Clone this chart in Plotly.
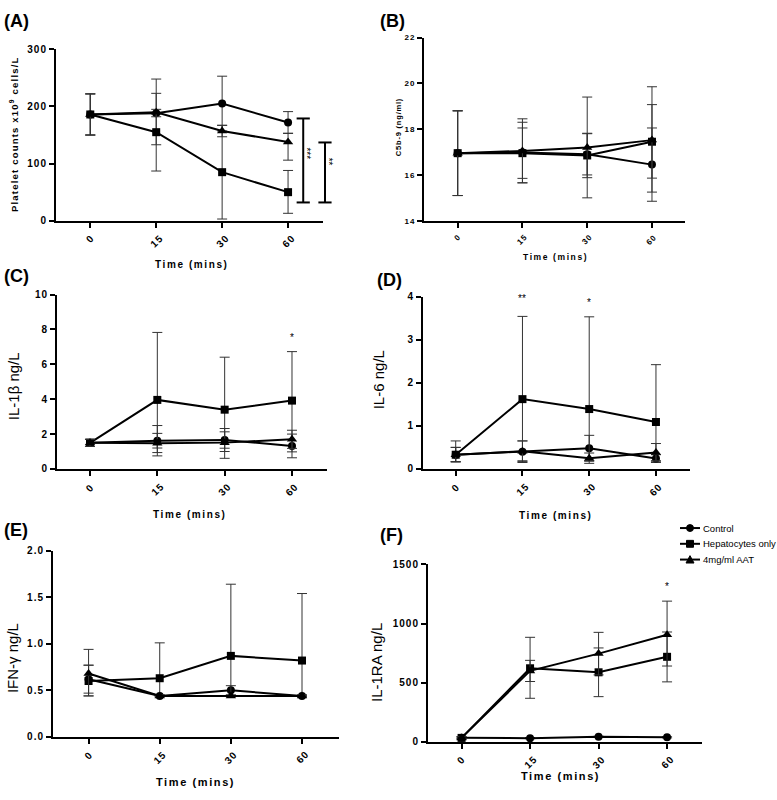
import plotly.graph_objects as go

# ---------------- data ----------------
times = ["0", "15", "30", "60"]
series_names = ["Control", "Hepatocytes only", "4mg/ml AAT"]

# (A) Platelet counts
a_control = [186, 188, 205, 172]
a_control_up = [36, 60, 48, 19]
a_control_dn = [36, 55, 48, 19]
a_hep = [186, 155, 85, 50]
a_hep_up = [36, 68, 82, 38]
a_hep_dn = [36, 68, 82, 37]
a_aat = [186, 190, 157, 138]
a_aat_up = [36, 5, 10, 15]
a_aat_dn = [36, 8, 10, 32]
a_ticks = [0, 100, 200, 300]
a_sig_low = [32, 32]
a_sig_high = [179, 137]
a_sig_text = ["***", "**"]

# (B) C5b-9
b_control = [16.95, 16.98, 16.9, 16.45]
b_control_up = [1.85, 1.32, 0.9, 1.6]
b_control_dn = [1.85, 1.32, 0.9, 1.6]
b_hep = [16.95, 16.95, 16.85, 17.45]
b_hep_up = [1.85, 1.1, 0.97, 2.4]
b_hep_dn = [1.85, 1.1, 0.97, 2.2]
b_aat = [16.95, 17.05, 17.2, 17.52]
b_aat_up = [1.85, 1.4, 2.2, 1.55]
b_aat_dn = [1.85, 1.4, 2.2, 1.66]
b_ticks = [14, 16, 18, 20, 22]

# (C) IL-1beta
c_control = [1.5, 1.62, 1.66, 1.32]
c_control_up = [0.2, 0.42, 0.47, 0.68]
c_control_dn = [0.2, 0.42, 0.47, 0.68]
c_hep = [1.5, 3.96, 3.4, 3.92]
c_hep_up = [0.2, 3.87, 3.01, 2.81]
c_hep_dn = [0.2, 3.02, 2.4, 2.94]
c_aat = [1.5, 1.47, 1.51, 1.7]
c_aat_up = [0.2, 1.02, 0.81, 0.52]
c_aat_dn = [0.2, 0.72, 0.9, 0.52]
c_ticks = [0, 2, 4, 6, 8, 10]
c_sig = {"60": (7.55, "*")}

# (D) IL-6
d_control = [0.33, 0.40, 0.48, 0.24]
d_control_up = [0.32, 0.25, 0.30, 0.09]
d_control_dn = [0.16, 0.25, 0.30, 0.09]
d_hep = [0.33, 1.62, 1.39, 1.09]
d_hep_up = [0.17, 1.92, 2.14, 1.33]
d_hep_dn = [0.16, 1.45, 1.2, 0.9]
d_aat = [0.33, 0.41, 0.25, 0.38]
d_aat_up = [0.17, 0.24, 0.12, 0.21]
d_aat_dn = [0.17, 0.22, 0.12, 0.2]
d_ticks = [0, 1, 2, 3, 4]
d_sig = {"15": (3.96, "**"), "30": (3.87, "*")}

# (E) IFN-gamma
e_control = [0.62, 0.44, 0.50, 0.44]
e_control_up = [0.15, 0.01, 0.05, 0.01]
e_control_dn = [0.15, 0.01, 0.05, 0.01]
e_hep = [0.60, 0.63, 0.87, 0.82]
e_hep_up = [0.34, 0.38, 0.77, 0.72]
e_hep_dn = [0.16, 0.19, 0.43, 0.38]
e_aat = [0.68, 0.44, 0.44, 0.44]
e_aat_up = [0.09, 0.01, 0.01, 0.01]
e_aat_dn = [0.24, 0.01, 0.01, 0.01]
e_ticks = [0.0, 0.5, 1.0, 1.5, 2.0]

# (F) IL-1RA
f_control = [35, 31, 42, 38]
f_control_up = [5, 5, 5, 5]
f_control_dn = [5, 5, 5, 5]
f_hep = [33, 622, 588, 719]
f_hep_up = [10, 262, 206, 210]
f_hep_dn = [10, 254, 206, 212]
f_aat = [33, 600, 746, 906]
f_aat_up = [10, 89, 180, 284]
f_aat_dn = [10, 90, 180, 265]
f_ticks = [0, 500, 1000, 1500]
f_sig = {"60": (1316, "*")}

# ---------------- layout helpers ----------------
W, H = 777, 800
FONT = "Arial, Liberation Sans, sans-serif"
symbols = ["circle", "square", "triangle-up"]
msizes = [8, 8, 9]


def px_x(p):
    return p / W


def px_y(p):
    return 1 - p / H


def spaced(t, sp=1.2):
    return '<span style="letter-spacing:%spx">%s</span>' % (sp, t)


panels = [
    dict(key="A", xdom=(56, 323), ydom=(44, 218), xr=(-0.52, 3.53), yr=(0, 300),
         ticks=a_ticks, tfmt="{:d}", fs=10,
         series=[(a_control, a_control_up, a_control_dn), (a_hep, a_hep_up, a_hep_dn), (a_aat, a_aat_up, a_aat_dn)],
         sig={}),
    dict(key="B", xdom=(424, 685), ydom=(32, 218), xr=(-0.52, 3.51), yr=(14, 22),
         ticks=b_ticks, tfmt="{:d}", fs=8,
         series=[(b_control, b_control_up, b_control_dn), (b_hep, b_hep_up, b_hep_dn), (b_aat, b_aat_up, b_aat_dn)],
         sig={}),
    dict(key="C", xdom=(57, 327), ydom=(293, 470), xr=(-0.49, 3.52), yr=(0, 10),
         ticks=c_ticks, tfmt="{:d}", fs=10,
         series=[(c_control, c_control_up, c_control_dn), (c_hep, c_hep_up, c_hep_dn), (c_aat, c_aat_up, c_aat_dn)],
         sig=c_sig),
    dict(key="D", xdom=(423, 690), ydom=(295, 470), xr=(-0.49, 3.51), yr=(0, 4),
         ticks=d_ticks, tfmt="{:d}", fs=10,
         series=[(d_control, d_control_up, d_control_dn), (d_hep, d_hep_up, d_hep_dn), (d_aat, d_aat_up, d_aat_dn)],
         sig=d_sig),
    dict(key="E", xdom=(53, 339), ydom=(553, 742), xr=(-0.5, 3.52), yr=(0, 2),
         ticks=e_ticks, tfmt="{:.1f}", fs=10,
         series=[(e_control, e_control_up, e_control_dn), (e_hep, e_hep_up, e_hep_dn), (e_aat, e_aat_up, e_aat_dn)],
         sig={}),
    dict(key="F", xdom=(428, 702), ydom=(567, 747), xr=(-0.49, 3.51), yr=(0, 1500),
         ticks=f_ticks, tfmt="{:d}", fs=10,
         series=[(f_control, f_control_up, f_control_dn), (f_hep, f_hep_up, f_hep_dn), (f_aat, f_aat_up, f_aat_dn)],
         sig=f_sig),
]

fig = go.Figure()
layout = dict(width=W, height=H, margin=dict(l=0, r=0, t=0, b=0),
              paper_bgcolor="white", plot_bgcolor="white",
              font=dict(family=FONT, color="black"),
              showlegend=False, hovermode=False)
annotations = []
shapes = []
xpos = list(range(len(times)))

for i, p in enumerate(panels):
    n = "" if i == 0 else str(i + 1)
    xa, ya = "x" + n, "y" + n
    tf = dict(family=FONT, size=p["fs"], weight=700, color="black")
    layout["xaxis" + n] = dict(
        domain=[px_x(p["xdom"][0]), px_x(p["xdom"][1])], range=list(p["xr"]),
        anchor=ya, tickmode="array", tickvals=xpos, showticklabels=False,
        showline=True, linecolor="black", linewidth=2, ticks="outside", ticklen=5,
        tickwidth=2, tickcolor="black", showgrid=False, zeroline=False, fixedrange=True)
    layout["yaxis" + n] = dict(
        domain=[px_y(p["ydom"][1]), px_y(p["ydom"][0])], range=list(p["yr"]),
        anchor=xa, tickmode="array", tickvals=p["ticks"],
        ticktext=[spaced(p["tfmt"].format(t), 1) for t in p["ticks"]],
        showline=True, linecolor="black", linewidth=2, ticks="outside", ticklen=5,
        tickwidth=2, tickcolor="black", showgrid=False, zeroline=False, tickfont=tf,
        fixedrange=True)
    # rotated category labels under the x axis
    for k, t in enumerate(times):
        annotations.append(dict(x=xpos[k], y=0, xref=xa, yref=ya + " domain", text=spaced(t, 1),
                                textangle=-45, xanchor="center", yanchor="top", yshift=-9,
                                showarrow=False, font=tf))
    for s, (vals, up, dn) in enumerate(p["series"]):
        fig.add_trace(go.Scatter(
            x=xpos, y=vals, xaxis=xa, yaxis=ya, mode="lines+markers",
            name=series_names[s], showlegend=False,
            line=dict(color="black", width=2),
            marker=dict(symbol=symbols[s], size=msizes[s], color="black"),
            error_y=dict(type="data", symmetric=False, array=up, arrayminus=dn,
                         color="#333333", thickness=1, width=5),
            cliponaxis=False))
    for t, (yv, txt) in p["sig"].items():
        annotations.append(dict(x=times.index(t), y=yv, xref=xa, yref=ya, text=txt,
                                showarrow=False, font=dict(size=10, family=FONT, color="black")))

# significance brackets in panel A (drawn outside the plotting area, so domain refs)
axr, ayr = panels[0]["xr"], panels[0]["yr"]


def fx(v):
    return (v - axr[0]) / (axr[1] - axr[0])


def fy(v):
    return (v - ayr[0]) / (ayr[1] - ayr[0])


bracket_x = [3.23, 3.56]
for bx, lo, hi, txt in zip(bracket_x, a_sig_low, a_sig_high, a_sig_text):
    shapes.append(dict(type="line", xref="x domain", yref="y domain", x0=fx(bx), x1=fx(bx),
                       y0=fy(lo), y1=fy(hi), line=dict(color="black", width=2)))
    for yy in (lo, hi):
        shapes.append(dict(type="line", xref="x domain", yref="y domain", x0=fx(bx - 0.1),
                           x1=fx(bx + 0.1), y0=fy(yy), y1=fy(yy), line=dict(color="black", width=2)))
    annotations.append(dict(x=fx(bx + 0.16), y=fy(lo + (hi - lo) * 0.58), xref="x domain", yref="y domain",
                            text=txt, textangle=90, showarrow=False,
                            font=dict(size=10, family=FONT, color="black")))

# legend (drawn by hand so it can run to the page edge as in the reference)
leg_rows = [530, 546, 562]
leg_shapes_pts = {
    "circle": lambda cx, cy: dict(type="circle", x0=px_x(cx - 3.5), x1=px_x(cx + 3.5),
                                  y0=px_y(cy + 3.5), y1=px_y(cy - 3.5)),
    "square": lambda cx, cy: dict(type="rect", x0=px_x(cx - 3.5), x1=px_x(cx + 3.5),
                                  y0=px_y(cy + 3.5), y1=px_y(cy - 3.5)),
    "triangle-up": lambda cx, cy: dict(type="path", path="M %f %f L %f %f L %f %f Z" % (
        px_x(cx - 4), px_y(cy + 3.5), px_x(cx + 4), px_y(cy + 3.5), px_x(cx), px_y(cy - 4))),
}
for s, name in enumerate(series_names):
    cy = leg_rows[s]
    shapes.append(dict(type="line", xref="paper", yref="paper", x0=px_x(680), x1=px_x(700),
                       y0=px_y(cy), y1=px_y(cy), line=dict(color="black", width=2)))
    g = leg_shapes_pts[symbols[s]](690, cy)
    g.update(xref="paper", yref="paper", fillcolor="black", line=dict(color="black", width=1))
    shapes.append(g)
    annotations.append(dict(x=px_x(702), y=px_y(cy), xref="paper", yref="paper", text=name,
                            xanchor="left", yanchor="middle", showarrow=False, borderpad=0,
                            font=dict(size=9.5, family=FONT, color="black")))

# panel letters
for lab, (lx, ly) in zip(["(A)", "(B)", "(C)", "(D)", "(E)", "(F)"],
                         [(2, 15), (378, 15), (2, 274), (375, 278), (2, 532), (378, 537)]):
    annotations.append(dict(x=px_x(lx), y=px_y(ly), xref="paper", yref="paper", text=lab,
                            xanchor="left", yanchor="middle", showarrow=False,
                            font=dict(size=18, family=FONT, weight=700, color="black")))

# y-axis titles
ytitles = [
    ("Platelet counts x10<sup>9</sup> cells/L", 14, 130, 9.5, 700, 1.2),
    ("C5b-9 (ng/ml)", 398, 123, 7.5, 700, 0.8),
    ("IL-1β ng/L", 13, 386, 15, 400, 0),
    ("IL-6 ng/L", 378, 380, 15, 400, 0),
    ("IFN-γ ng/L", 12, 662, 15, 400, 0),
    ("IL-1RA ng/L", 377, 667, 15, 400, 0),
]
for txt, tx, ty, sz, wt, sp in ytitles:
    annotations.append(dict(x=px_x(tx), y=px_y(ty), xref="paper", yref="paper",
                            text=spaced(txt, sp) if sp else txt, textangle=-90,
                            xanchor="center", yanchor="middle", showarrow=False,
                            font=dict(size=sz, family=FONT, weight=wt, color="black")))

# x-axis titles
for tx, ty, sz in [(192, 262, 10), (555, 255, 8.5), (190, 516, 10), (556, 517, 10),
                   (195, 788, 11), (560, 782, 11)]:
    annotations.append(dict(x=px_x(tx), y=px_y(ty), xref="paper", yref="paper",
                            text=spaced("Time (mins)", 1.6), xanchor="center", yanchor="middle",
                            showarrow=False, font=dict(size=sz, family=FONT, weight=700, color="black")))

layout["annotations"] = annotations
layout["shapes"] = shapes
fig.update_layout(**layout)
fig.write_html("out.html", config={"displayModeBar": False, "staticPlot": True},
               post_script="document.body.style.margin='0px';")
